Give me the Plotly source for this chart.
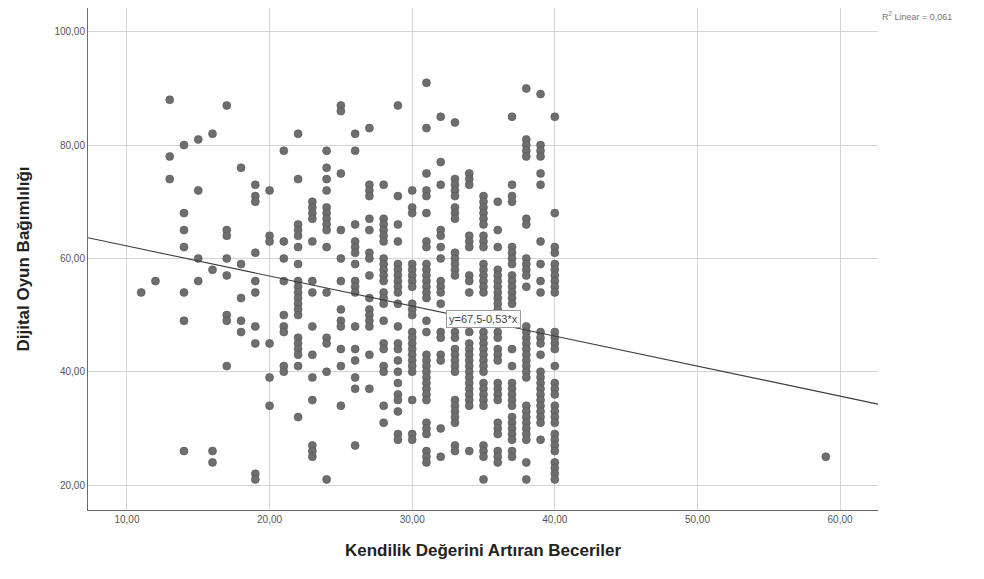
import plotly.graph_objects as go

# X categories (Kendilik Değerini Artıran Beceriler) and Y values per column
x_cols = [11, 12, 13, 14, 15, 16, 17, 18, 19, 20, 21, 22, 23, 24, 25, 26, 27, 28, 29, 30,
          31, 32, 33, 34, 35, 36, 37, 38, 39, 40, 59]
y_groups = [
    [54],
    [56],
    [88, 78, 74],
    [80, 68, 65, 62, 54, 49, 26],
    [81, 72, 60, 56],
    [82, 58, 26, 24],
    [87, 65, 64, 60, 57, 50, 49, 41],
    [76, 59, 53, 49, 47],
    [73, 71, 70, 61, 56, 54, 48, 45, 22, 21],
    [72, 64, 63, 45, 39, 34],
    [79, 63, 60, 56, 50, 48, 47, 41, 40],
    [82, 74, 66, 65, 64, 62, 59, 56, 55, 54, 53, 52, 51, 50, 46, 45, 44, 43, 41, 32],
    [70, 69, 68, 67, 63, 56, 54, 48, 43, 39, 35, 27, 26, 25],
    [79, 76, 74, 72, 69, 68, 67, 66, 65, 62, 54, 46, 45, 40, 21],
    [87, 86, 75, 65, 60, 56, 51, 49, 48, 44, 41, 34],
    [82, 79, 66, 63, 62, 61, 59, 56, 55, 54, 48, 44, 42, 39, 37, 27],
    [83, 73, 72, 71, 67, 65, 61, 60, 57, 53, 51, 50, 49, 48, 43, 37],
    [73, 67, 66, 65, 64, 63, 60, 59, 58, 57, 56, 54, 53, 52, 49, 45, 44, 41, 40, 34, 31],
    [87, 71, 66, 63, 59, 58, 57, 56, 55, 54, 52, 48, 45, 44, 42, 40, 38, 36, 35, 33, 29, 28],
    [72, 69, 68, 59, 58, 57, 56, 55, 52, 51, 50, 47, 46, 45, 44, 43, 42, 41, 40, 35, 29, 28],
    [91, 83, 75, 72, 71, 68, 63, 62, 59, 58, 57, 56, 55, 54, 53, 49, 47, 43, 42, 41, 40, 39,
     38, 37, 36, 35, 31, 30, 29, 26, 25, 24],
    [85, 77, 73, 65, 64, 62, 60, 56, 55, 54, 52, 47, 46, 43, 42, 30, 25],
    [84, 74, 73, 72, 71, 69, 68, 67, 61, 60, 59, 58, 57, 47, 46, 44, 43, 42, 41, 40, 35, 34,
     33, 32, 31, 27, 26],
    [75, 74, 73, 64, 63, 62, 57, 56, 54, 47, 45, 44, 43, 42, 41, 40, 39, 38, 37, 36, 35, 34, 26],
    [71, 70, 69, 68, 67, 66, 64, 63, 62, 59, 58, 57, 56, 55, 54, 47, 46, 45, 44, 43, 42, 41,
     40, 38, 37, 36, 35, 34, 27, 26, 25, 21],
    [70, 65, 62, 58, 57, 56, 55, 54, 53, 52, 51, 47, 46, 44, 43, 42, 38, 37, 36, 35, 31, 30,
     29, 26, 25, 24],
    [85, 73, 71, 70, 62, 61, 60, 59, 57, 56, 55, 54, 53, 52, 49, 44, 41, 38, 37, 36, 35, 34,
     32, 31, 30, 29, 28, 26, 25],
    [90, 81, 80, 79, 78, 67, 66, 60, 59, 58, 57, 55, 48, 47, 46, 45, 44, 43, 42, 41, 40, 39,
     34, 33, 32, 31, 30, 29, 28, 24, 21],
    [89, 80, 79, 78, 75, 73, 63, 59, 56, 54, 47, 46, 45, 43, 40, 39, 38, 37, 36, 35, 34, 33,
     32, 31, 28],
    [85, 68, 62, 61, 59, 58, 57, 56, 55, 54, 47, 46, 45, 44, 41, 38, 37, 36, 34, 33, 32, 31,
     29, 28, 27, 26, 24, 23, 22, 21],
    [25],
]

x_ticks = [10, 20, 30, 40, 50, 60]
x_ticktext = ["10,00", "20,00", "30,00", "40,00", "50,00", "60,00"]
y_ticks = [20, 40, 60, 80, 100]
y_ticktext = ["20,00", "40,00", "60,00", "80,00", "100,00"]

intercept = 67.5
slope = -0.53
x_range = [7.27, 62.66]
y_range = [15.6, 104.2]

xs, ys = [], []
for xv, grp in zip(x_cols, y_groups):
    for yv in grp:
        xs.append(xv)
        ys.append(yv)

fig = go.Figure()
fig.add_trace(go.Scatter(
    x=xs, y=ys, mode="markers",
    marker=dict(size=8, color="#6e6e6e", line=dict(width=0.6, color="#555555")),
    showlegend=False, hoverinfo="x+y",
))
fig.add_trace(go.Scatter(
    x=x_range, y=[intercept + slope * v for v in x_range], mode="lines",
    line=dict(color="#3c3c3c", width=1.1), showlegend=False, hoverinfo="skip",
))

font_family = "Liberation Sans, Arial, sans-serif"
fig.update_layout(
    width=984, height=579,
    margin=dict(l=88, r=106, t=8, b=69),
    paper_bgcolor="white", plot_bgcolor="white",
    font=dict(family=font_family, color="#555555", size=10),
    xaxis=dict(
        range=x_range, tickvals=x_ticks, ticktext=x_ticktext,
        showgrid=True, gridcolor="#d4d4d4", gridwidth=1,
        zeroline=False, showline=True, linecolor="#6a6a6a", linewidth=1,
        ticks="", tickfont=dict(size=10, color="#555555"),
        title=dict(text="<b>Kendilik Değerini Artıran Beceriler</b>",
                   font=dict(size=17, color="#222222", family=font_family), standoff=20),
    ),
    yaxis=dict(
        range=y_range, tickvals=y_ticks, ticktext=y_ticktext,
        showgrid=True, gridcolor="#d4d4d4", gridwidth=1,
        zeroline=False, showline=True, linecolor="#6a6a6a", linewidth=1,
        ticks="", tickfont=dict(size=10, color="#555555"),
        title=dict(text="<b>Dijital Oyun Bağımlılığı</b>",
                   font=dict(size=17, color="#222222", family=font_family), standoff=20),
    ),
    annotations=[
        dict(text="R<sup>2</sup> Linear = 0,061", xref="paper", yref="paper",
             x=1.0025, y=0.984, xanchor="left", yanchor="middle", showarrow=False,
             font=dict(size=9, color="#777777", family=font_family)),
        dict(text="y=67,5-0,53*x", xref="x", yref="y", x=35.0, y=49.3,
             xanchor="center", yanchor="middle", showarrow=False,
             bgcolor="white", bordercolor="#9a9a9a", borderwidth=1, borderpad=2,
             font=dict(size=11, color="#444444", family=font_family)),
    ],
)

fig.write_html("out.html")
